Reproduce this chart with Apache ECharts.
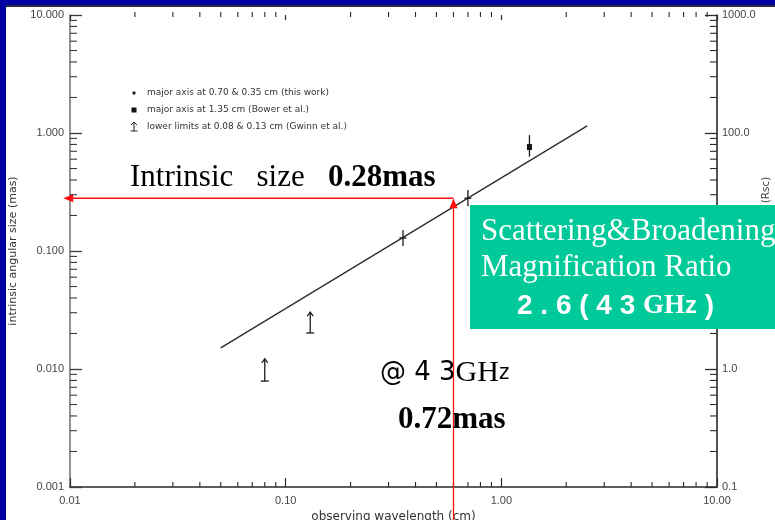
<!DOCTYPE html>
<html>
<head>
<meta charset="utf-8">
<script src="https://cdn.jsdelivr.net/npm/echarts@6/dist/echarts.min.js"></script>
<style>
  html, body { margin: 0; padding: 0; width: 775px; height: 520px; overflow: hidden; background: #0000a0; }
  #paper { position: absolute; left: 6px; top: 7px; right: 0; bottom: 0; background: #ffffff; }
  #rule { position: absolute; left: 6px; top: 5px; width: 769px; height: 2px; background: #2a2a44; }
  #chart { position: absolute; left: 0; top: 0; width: 775px; height: 520px; }
</style>
</head>
<body>
<div id="paper"></div>
<div id="rule"></div>
<div id="chart"></div>
<script>
// Axis tick labels
const xTickLabels = ['0.01', '0.10', '1.00', '10.00'];
const yTickLabels = ['0.001', '0.010', '0.100', '1.000', '10.000'];
const rscTickLabels = ['0.1', '1.0', '10.0', '100.0', '1000.0'];

// Major-axis sizes measured at 0.70 & 0.35 cm (this work), mas
const thisWorkWavelength = [0.35, 0.70];
const thisWorkSize = [0.129, 0.28];
const thisWorkLow = [0.110, 0.240];
const thisWorkHigh = [0.151, 0.329];

// Major axis at 1.35 cm (Bower et al.)
const bowerWavelength = [1.35];
const bowerSize = [0.76];
const bowerLow = [0.63];
const bowerHigh = [0.96];

// Lower limits at 0.08 & 0.13 cm (Gwinn et al.)
const gwinnWavelength = [0.08, 0.13];
const gwinnLimit = [0.0079, 0.0202];
const gwinnArrowTop = [0.0122, 0.0304];

// Power-law fit, end points
const fitWavelength = [0.05, 2.5];
const fitSize = [0.0151, 1.15];

// 43 GHz read-off: wavelength (cm) and intrinsic size (mas)
const markWavelength = [0.6];
const markSize = [0.28];
const markArrowLeft = [0.0093];
const markLineBottom = [0.0005];

// Logarithmic minor tick positions
const minorSteps = [2, 3, 4, 5, 6, 7, 8, 9];
const xDecades = [0.01, 0.1, 1];
const yDecades = [0.001, 0.01, 0.1, 1];
const xMinor = [];
xDecades.forEach(d => minorSteps.forEach(s => xMinor.push(+(d * s).toPrecision(3))));
const yMinor = [];
yDecades.forEach(d => minorSteps.forEach(s => yMinor.push(+(d * s).toPrecision(3))));

const INK = '#1a1a1a';
const LABEL = '#454545';
const SANS = "'Liberation Sans', Arial, sans-serif";
const WIDE = "'DejaVu Sans', 'Liberation Sans', sans-serif";
const SERIF = "'Liberation Serif', 'Times New Roman', serif";

function seg(x1, y1, x2, y2, color, w) {
  return { type: 'line', shape: { x1, y1, x2, y2 }, style: { stroke: color || INK, lineWidth: w || 1.2 } };
}

const chart = echarts.init(document.getElementById('chart'), null, { renderer: 'canvas' });

const option = {
  animation: false,
  backgroundColor: 'transparent',
  grid: { left: 70, top: 15, width: 647, height: 472, containLabel: false, outerBoundsMode: 'none' },
  xAxis: [
    {
      type: 'log', logBase: 10, min: 0.01, max: 10, position: 'bottom',
      name: 'observing wavelength (cm)', nameLocation: 'middle', nameGap: 19,
      nameTextStyle: { fontFamily: WIDE, fontSize: 12, color: '#333' },
      axisLine: { show: true, lineStyle: { color: '#2a2a2a', width: 1.6 } },
      axisTick: { show: true, inside: true, length: 9, lineStyle: { color: '#2a2a2a', width: 1.2 } },
      axisLabel: {
        margin: 8, fontFamily: SANS, fontSize: 11, color: LABEL,
        formatter: v => xTickLabels[Math.round(Math.log10(v)) + 2]
      },
      splitLine: { show: false }
    },
    {
      type: 'log', logBase: 10, min: 0.01, max: 10, position: 'top',
      axisLine: { show: false },
      axisTick: { show: true, inside: true, length: 5, lineStyle: { color: '#2a2a2a', width: 1.2 } },
      axisLabel: { show: false },
      splitLine: { show: false }
    }
  ],
  yAxis: [
    {
      type: 'log', logBase: 10, min: 0.001, max: 10, position: 'left',
      name: 'intrinsic angular size (mas)', nameLocation: 'middle', nameGap: 51,
      nameTextStyle: { fontFamily: WIDE, fontSize: 11, color: '#333' },
      axisLine: { show: true, lineStyle: { color: '#7a7a7a', width: 1.6 } },
      axisTick: { show: true, inside: true, length: 12, lineStyle: { color: '#3a3a3a', width: 1.3 } },
      axisLabel: {
        margin: 6, fontFamily: SANS, fontSize: 11, color: LABEL,
        formatter: v => yTickLabels[Math.round(Math.log10(v)) + 3]
      },
      splitLine: { show: false }
    },
    {
      type: 'log', logBase: 10, min: 0.1, max: 1000, position: 'right',
      axisLine: { show: true, lineStyle: { color: '#2a2a2a', width: 1.6 } },
      axisTick: { show: true, inside: true, length: 12, lineStyle: { color: '#2a2a2a', width: 1.3 } },
      axisLabel: {
        margin: 5, fontFamily: SANS, fontSize: 11, color: LABEL,
        formatter: v => rscTickLabels[Math.round(Math.log10(v)) + 1]
      },
      splitLine: { show: false }
    }
  ],
  series: [
    // minor ticks along bottom and top
    {
      type: 'custom', name: 'xMinorTicks', silent: true, clip: false, z: 3,
      xAxisIndex: 0, yAxisIndex: 0,
      data: xMinor.map(v => [v, 1]),
      renderItem: (params, api) => {
        const cs = params.coordSys;
        const x = api.coord([api.value(0), 1])[0];
        const b = cs.y + cs.height;
        return { type: 'group', children: [
          seg(x, b, x, b - 5, '#2a2a2a', 1.1),
          seg(x, cs.y - 3, x, cs.y + 2, '#2a2a2a', 1.1)
        ] };
      }
    },
    // minor ticks along left and right
    {
      type: 'custom', name: 'yMinorTicks', silent: true, clip: false, z: 3,
      xAxisIndex: 0, yAxisIndex: 0,
      data: yMinor.map(v => [1, v]),
      renderItem: (params, api) => {
        const cs = params.coordSys;
        const y = api.coord([1, api.value(1)])[1];
        const r = cs.x + cs.width;
        return { type: 'group', children: [
          seg(cs.x, y, cs.x + 7, y, '#3a3a3a', 1.1),
          seg(r, y, r - 7, y, '#2a2a2a', 1.1)
        ] };
      }
    },
    // power-law fit
    {
      type: 'line', name: 'fit', xAxisIndex: 0, yAxisIndex: 0,
      data: fitWavelength.map((x, i) => [x, fitSize[i]]),
      showSymbol: false, symbol: 'none', silent: true,
      lineStyle: { color: '#2b2b2b', width: 1.3 }
    },
    // this work: size with error bars
    {
      type: 'custom', name: 'major axis at 0.70 & 0.35 cm (this work)', clip: false, z: 4,
      xAxisIndex: 0, yAxisIndex: 0,
      data: thisWorkWavelength.map((x, i) => [x, thisWorkSize[i], thisWorkLow[i], thisWorkHigh[i]]),
      renderItem: (params, api) => {
        const c = api.coord([api.value(0), api.value(1)]);
        const lo = api.coord([api.value(0), api.value(2)]);
        const hi = api.coord([api.value(0), api.value(3)]);
        return { type: 'group', children: [
          seg(c[0], lo[1], c[0], hi[1], INK, 1.3),
          seg(c[0] - 3.5, c[1], c[0] + 3.5, c[1], INK, 1.3)
        ] };
      }
    },
    // Bower et al.: filled square with error bar
    {
      type: 'custom', name: 'major axis at 1.35 cm (Bower et al.)', clip: false, z: 4,
      xAxisIndex: 0, yAxisIndex: 0,
      data: bowerWavelength.map((x, i) => [x, bowerSize[i], bowerLow[i], bowerHigh[i]]),
      renderItem: (params, api) => {
        const c = api.coord([api.value(0), api.value(1)]);
        const lo = api.coord([api.value(0), api.value(2)]);
        const hi = api.coord([api.value(0), api.value(3)]);
        return { type: 'group', children: [
          seg(c[0], lo[1], c[0], hi[1], INK, 1.3),
          { type: 'rect', shape: { x: c[0] - 2.5, y: c[1] - 3, width: 5, height: 6 }, style: { fill: '#111' } }
        ] };
      }
    },
    // Gwinn et al.: lower limits
    {
      type: 'custom', name: 'lower limits at 0.08 & 0.13 cm (Gwinn et al.)', clip: false, z: 4,
      xAxisIndex: 0, yAxisIndex: 0,
      data: gwinnWavelength.map((x, i) => [x, gwinnLimit[i], gwinnArrowTop[i]]),
      renderItem: (params, api) => {
        const lo = api.coord([api.value(0), api.value(1)]);
        const hi = api.coord([api.value(0), api.value(2)]);
        const x = lo[0];
        return { type: 'group', children: [
          seg(x, lo[1], x, hi[1], INK, 1.3),
          seg(x - 4, lo[1], x + 4, lo[1], INK, 1.3),
          { type: 'polyline', shape: { points: [[x - 3, hi[1] + 4], [x, hi[1]], [x + 3, hi[1] + 4]] },
            style: { stroke: INK, lineWidth: 1.2, fill: null } }
        ] };
      }
    },
    // red read-off arrows at 43 GHz
    {
      type: 'custom', name: 'readoff', silent: true, clip: false, z: 5,
      xAxisIndex: 0, yAxisIndex: 0,
      data: markWavelength.map((x, i) => [x, markSize[i], markArrowLeft[i], markLineBottom[i]]),
      renderItem: (params, api) => {
        const p = api.coord([api.value(0), api.value(1)]);
        const left = api.coord([api.value(2), api.value(1)]);
        const bottom = api.coord([api.value(0), api.value(3)]);
        const red = '#ff1010';
        return { type: 'group', children: [
          seg(p[0], p[1], left[0] + 9, p[1], red, 1.3),
          { type: 'polygon', shape: { points: [[left[0], p[1]], [left[0] + 10, p[1] - 4], [left[0] + 10, p[1] + 4]] },
            style: { fill: red } },
          seg(p[0], bottom[1], p[0], p[1] + 9, red, 1.3),
          { type: 'polygon', shape: { points: [[p[0], p[1]], [p[0] - 4, p[1] + 10], [p[0] + 4, p[1] + 10]] },
            style: { fill: red } }
        ] };
      }
    }
  ],
  graphic: [
    // legend block
    { type: 'circle', shape: { cx: 134, cy: 93, r: 1.7 }, style: { fill: '#222' }, z: 10 },
    { type: 'rect', shape: { x: 131.5, y: 107.5, width: 5, height: 5 }, style: { fill: '#111' }, z: 10 },
    { type: 'line', shape: { x1: 134, y1: 131, x2: 134, y2: 122 }, style: { stroke: '#222', lineWidth: 1 }, z: 10 },
    { type: 'polyline', shape: { points: [[131, 125], [134, 122], [137, 125]] }, style: { stroke: '#222', lineWidth: 1, fill: null }, z: 10 },
    { type: 'line', shape: { x1: 130.5, y1: 131, x2: 137.5, y2: 131 }, style: { stroke: '#222', lineWidth: 1 }, z: 10 },
    { type: 'text', x: 147, y: 93, z: 10, style: { text: 'major axis at 0.70 & 0.35 cm (this work)', font: "9px 'DejaVu Sans', sans-serif", fill: '#333', verticalAlign: 'middle' } },
    { type: 'text', x: 147, y: 110, z: 10, style: { text: 'major axis at 1.35 cm (Bower et al.)', font: "9px 'DejaVu Sans', sans-serif", fill: '#333', verticalAlign: 'middle' } },
    { type: 'text', x: 147, y: 127, z: 10, style: { text: 'lower limits at 0.08 & 0.13 cm (Gwinn et al.)', font: "9px 'DejaVu Sans', sans-serif", fill: '#333', verticalAlign: 'middle' } },

    // right axis title
    { type: 'text', x: 766, y: 190, rotation: Math.PI / 2, z: 10,
      style: { text: '(Rsc)', font: "10.5px " + WIDE, fill: '#444', align: 'center', verticalAlign: 'middle' } },

    // annotations
    { type: 'text', x: 130, y: 178, z: 20,
      style: {
        text: '{a|Intrinsic   size   }{b|0.28mas}', verticalAlign: 'middle',
        rich: {
          a: { font: '31px ' + SERIF, fill: '#000' },
          b: { font: 'bold 31px ' + SERIF, fill: '#000' }
        }
      } },
    { type: 'text', x: 380, y: 373, z: 20,
      style: {
        text: '{s|@ 4 3}{g|GH}{z|z}', verticalAlign: 'middle',
        rich: {
          s: { font: "26px 'DejaVu Sans', sans-serif", fill: '#000' },
          g: { font: '30px ' + SERIF, fill: '#000' },
          z: { font: "22px 'DejaVu Sans Condensed', 'DejaVu Sans', sans-serif", fill: '#000' }
        }
      } },
    { type: 'text', x: 398, y: 420, z: 20,
      style: { text: '0.72mas', font: 'bold 31px ' + SERIF, fill: '#000', verticalAlign: 'middle' } },

    // green call-out box
    { type: 'rect', shape: { x: 470, y: 205, width: 305, height: 124 }, style: { fill: '#00c99a' }, z: 30 },
    { type: 'text', x: 481, y: 232, z: 31,
      style: { text: 'Scattering&Broadening', font: '31px ' + SERIF, fill: '#ffffff', verticalAlign: 'middle' } },
    { type: 'text', x: 481, y: 268, z: 31,
      style: { text: 'Magnification Ratio', font: '31px ' + SERIF, fill: '#ffffff', verticalAlign: 'middle' } },
    { type: 'text', x: 517, y: 306, z: 31,
      style: {
        text: '{d|2 . 6 ( 4 3 }{g|GH}{z|z}{d| )}', verticalAlign: 'middle',
        rich: {
          d: { font: "bold 28px 'Liberation Sans Narrow', 'Liberation Sans', sans-serif", fill: '#ffffff' },
          g: { font: 'bold 27px ' + SERIF, fill: '#ffffff' },
          z: { font: "bold 24px 'Liberation Sans', sans-serif", fill: '#ffffff' }
        }
      } }
  ]
};

chart.setOption(option);
</script>
</body>
</html>
